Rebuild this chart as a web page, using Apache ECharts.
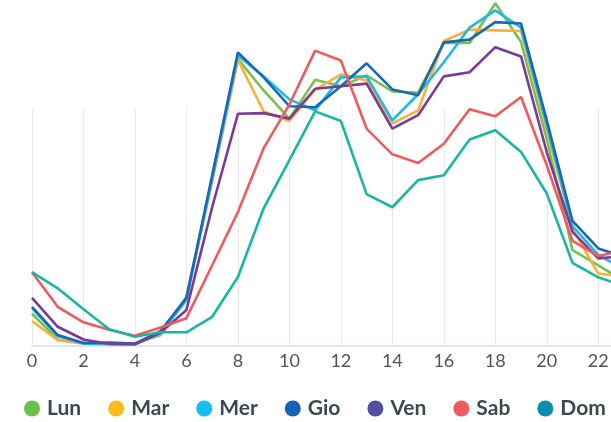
<!DOCTYPE html>
<html>
<head>
<meta charset="utf-8">
<script src="https://cdn.jsdelivr.net/npm/echarts@6/dist/echarts.min.js"></script>
<style>
  html, body { margin: 0; padding: 0; background: #fff; }
  #chart { width: 611px; height: 422px; }
</style>
</head>
<body>
<div id="chart"></div>
<script>
// ore del giorno
var hours = ['0','1','2','3','4','5','6','7','8','9','10','11','12','13','14','15','16','17','18','19','20','21','22','23'];

var lun = [9.4, 1.9, 0.8, 0.6, 0.7, 3.2, 14.3, 48.0, 83.6, 74.4, 66.2, 77.5, 75.6, 78.8, 74.1, 73.8, 88.2, 88.2, 99.8, 88.5, 60.2, 27.9, 23.5, 18.9];
var mar = [7.3, 1.7, 0.7, 0.6, 0.6, 3.5, 14.2, 48.5, 83.3, 68.3, 65.5, 74.6, 79.1, 77.3, 64.8, 68.6, 88.8, 92.1, 91.9, 91.7, 62.8, 34.2, 21.1, 20.1];
var mer = [11.0, 2.9, 0.7, 0.6, 0.4, 3.7, 13.4, 48.8, 84.6, 78.5, 71.8, 68.6, 78.2, 78.5, 65.7, 73.3, 82.6, 92.7, 97.7, 92.7, 64.2, 34.9, 26.5, 22.4];
var gio = [11.4, 3.2, 0.9, 1.0, 0.7, 4.4, 14.0, 49.7, 85.5, 78.2, 69.8, 69.5, 75.6, 82.3, 74.7, 73.0, 88.4, 89.2, 94.3, 93.9, 65.7, 36.4, 28.4, 26.0];
var ven = [14.0, 5.6, 1.9, 0.6, 0.6, 3.9, 10.5, 40.4, 67.6, 67.8, 66.2, 74.9, 75.6, 76.4, 63.3, 67.2, 78.5, 79.7, 87.0, 84.3, 56.4, 33.2, 25.5, 26.2];
var sab = [21.5, 11.4, 6.9, 4.7, 3.0, 5.4, 8.1, 23.5, 39.0, 57.6, 70.3, 86.0, 83.1, 63.3, 55.8, 53.3, 58.9, 68.9, 66.9, 72.5, 52.6, 30.6, 26.2, 27.8];
var dom = [21.5, 16.8, 10.7, 4.9, 2.7, 4.0, 4.0, 8.5, 20.1, 40.1, 54.1, 68.3, 65.5, 44.2, 40.4, 48.3, 49.7, 60.1, 62.8, 56.5, 44.4, 24.2, 20.0, 17.4];

var days = ['Lun', 'Mar', 'Mer', 'Gio', 'Ven', 'Sab', 'Dom'];
var values = [lun, mar, mer, gio, ven, sab, dom];
var lineColors = ['#79c14f', '#fbb03b', '#1fb9e8', '#1a68b5', '#7a3a96', '#ef5b5b', '#19b5a5'];
var legendColors = ['#6cbf4c', '#fdbc1a', '#17bff0', '#1463b6', '#554ca3', '#f05a60', '#0b8eae'];

var chart = echarts.init(document.getElementById('chart'));

var series = days.map(function (d, i) {
  return {
    name: d,
    type: 'line',
    data: values[i],
    showSymbol: false,
    clip: false,
    lineStyle: { width: 2.6, color: lineColors[i] },
    itemStyle: { color: lineColors[i] }
  };
});

var option = {
  animation: false,
  grid: { left: 32, width: 592, top: 109, height: 237, outerBoundsMode: 'none' },
  legend: {
    top: 398,
    left: 24,
    width: 640,
    padding: 0,
    icon: 'circle',
    itemWidth: 16,
    itemHeight: 16,
    itemGap: 27,
    textStyle: { fontFamily: 'Lato', fontWeight: 'bold', fontSize: 21, color: '#3b4a4f', padding: [0, 0, 0, 2] },
    data: days.map(function (d, i) {
      return { name: d, itemStyle: { color: legendColors[i] } };
    })
  },
  xAxis: {
    type: 'category',
    data: hours,
    boundaryGap: false,
    axisLine: { lineStyle: { color: '#dfe4f0', width: 2 } },
    axisTick: { show: false },
    axisLabel: { interval: 1, margin: 6, fontFamily: 'Lato', fontSize: 18, color: '#555' },
    splitLine: { show: true, interval: 1, lineStyle: { color: '#e8e8e8', width: 1 } }
  },
  yAxis: {
    type: 'value',
    min: 0,
    max: 69,
    show: false,
    splitLine: { show: false }
  },
  series: series
};

chart.setOption(option);
</script>
</body>
</html>
